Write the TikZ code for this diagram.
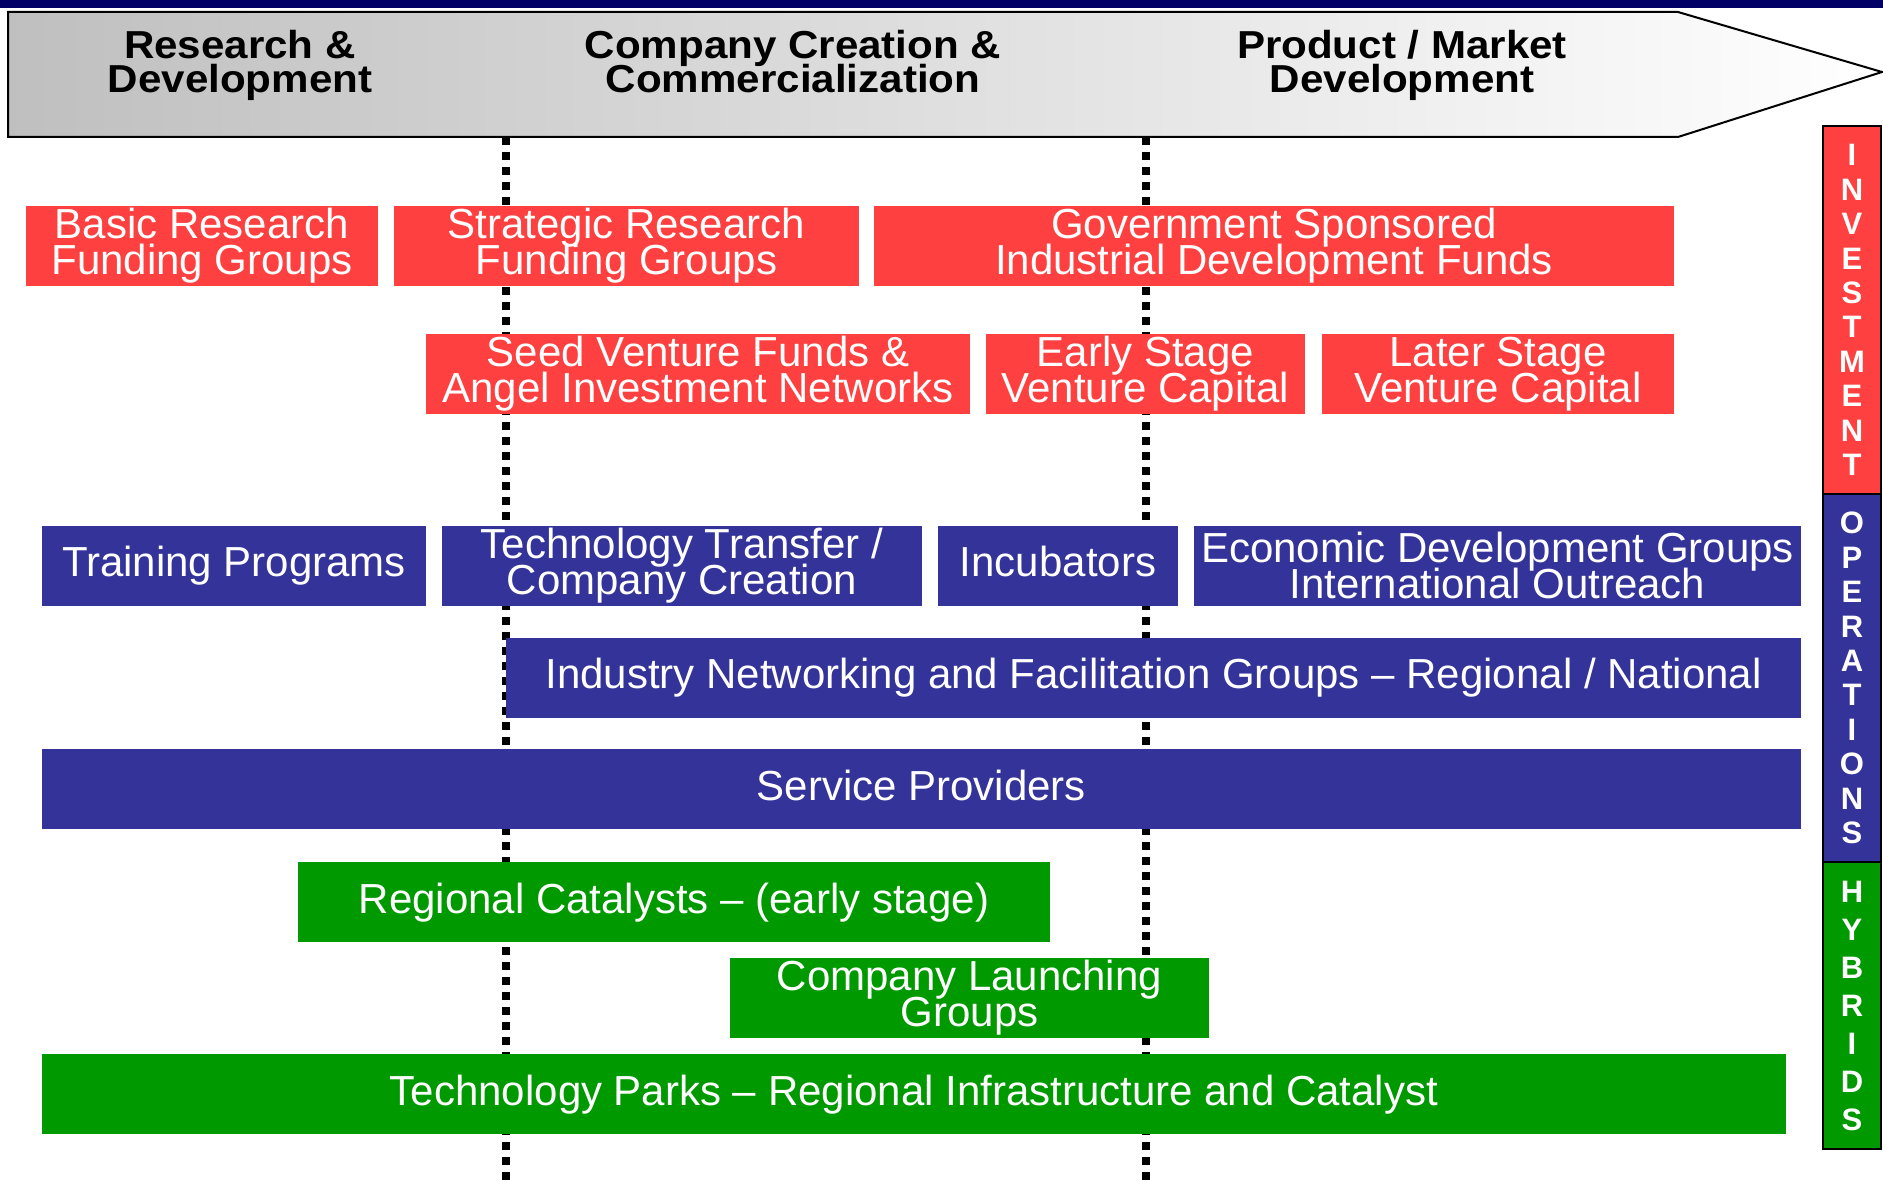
\documentclass[tikz,border=0pt]{standalone}
\usepackage{fontspec}
\setmainfont{Liberation Sans}
\newfontfamily\phasefont[FakeStretch=1.08]{Liberation Sans}
\usepackage{xcolor}
\definecolor{invred}{RGB}{255,64,64}
\definecolor{opsblue}{RGB}{51,51,153}
\definecolor{hybgreen}{RGB}{0,153,0}
\definecolor{topnavy}{RGB}{0,0,102}
\newcommand\tightlines{\lineskiplimit=-50pt\relax}
\begin{document}
\begin{tikzpicture}[x=1pt,y=-1pt,
  bar/.style={inner sep=0pt, minimum height=80pt, text=white, align=center, font={\fontsize{42}{36}\selectfont\tightlines}},
  oneline/.style={text height=31pt, text depth=9pt},
  invbar/.style={bar, fill=invred},
  opsbar/.style={bar, fill=opsblue},
  hybbar/.style={bar, fill=hybgreen},
  phase/.style={align=center, inner sep=0pt, font={\phasefont\fontsize{39}{34}\selectfont\bfseries\tightlines}},
  sidebar/.style={draw=black, line width=2pt, text=white, align=center, inner sep=0pt, minimum width=58pt, font=\fontsize{31}{34.4}\selectfont\bfseries},
  divider/.style={line width=8pt, dash pattern=on 8pt off 7pt}]
\useasboundingbox (0,0) rectangle (1883,1180);
% Top band and phase arrow
\fill[topnavy] (0,0) rectangle (1883,8);
\draw[line width=2pt, left color=black!25, right color=white] (8,12) -- (1678,12) -- (1882,72) -- (1678,137) -- (8,137) -- cycle;
\node[phase] (rd)  at (240,65)  {Research \&\\Development};
\node[phase] (ccc) at (793,62)  {Company Creation \&\\Commercialization};
\node[phase] (pmd) at (1402,65) {Product / Market\\Development};
% Phase dividers
\draw[divider] (506,137) -- (506,1180);
\draw[divider] (1146,137) -- (1146,1180);
% Investment
     \node[invbar, minimum width=352pt] (basic)     at (202,245.5)  {Basic Research\\Funding Groups};
     \node[invbar, minimum width=465pt] (strategic) at (626.5,245.5) {Strategic Research\\Funding Groups};
     \node[invbar, minimum width=800pt] (govt)      at (1274,245.5) {Government Sponsored\\Industrial Development Funds};
     \node[invbar, minimum width=544pt] (seed)      at (698,374)    {Seed Venture Funds \&\\Angel Investment Networks};
     \node[invbar, minimum width=319pt] (early)     at (1145.5,374) {Early Stage\\Venture Capital};
     \node[invbar, minimum width=352pt] (later)     at (1498,374)   {Later Stage\\Venture Capital};
% Operations
     \node[opsbar, oneline, minimum width=384pt]  (training)   at (234,565.5)    {Training Programs};
     \node[opsbar, minimum width=480pt]           (transfer)   at (682,565.5)    {Technology Transfer /\\Company Creation};
     \node[opsbar, oneline, minimum width=240pt]  (incubators) at (1058,565.5)   {Incubators};
     \node[opsbar, minimum width=607pt]           (econ)       at (1497.5,565.5) {Economic Development Groups\\International Outreach};
     \node[opsbar, oneline, minimum width=1295pt] (networking) at (1153.5,677.5) {Industry Networking and Facilitation Groups – Regional / National};
     \node[opsbar, oneline, minimum width=1759pt] (service)    at (921.5,789)    {Service Providers};
% Hybrids
     \node[hybbar, oneline, minimum width=752pt]  (catalysts) at (674,902)   {Regional Catalysts – (early stage)};
     \node[hybbar, minimum width=479pt]           (launching) at (969.5,998) {Company Launching\\Groups};
     \node[hybbar, oneline, minimum width=1744pt] (parks)     at (914,1094)  {Technology Parks – Regional Infrastructure and Catalyst};
% Category column
     \node[sidebar, fill=invred, minimum height=368pt]  (investment) at (1852,310)    {I\\N\\V\\E\\S\\T\\M\\E\\N\\T};
     \node[sidebar, fill=opsblue, minimum height=368pt] (operations) at (1852,678)    {O\\P\\E\\R\\A\\T\\I\\O\\N\\S};
     \node[sidebar, fill=hybgreen, minimum height=287pt, font=\fontsize{31}{38}\selectfont\bfseries] (hybrids) at (1852,1005.5) {H\\Y\\B\\R\\I\\D\\S};
\end{tikzpicture}
\end{document}
